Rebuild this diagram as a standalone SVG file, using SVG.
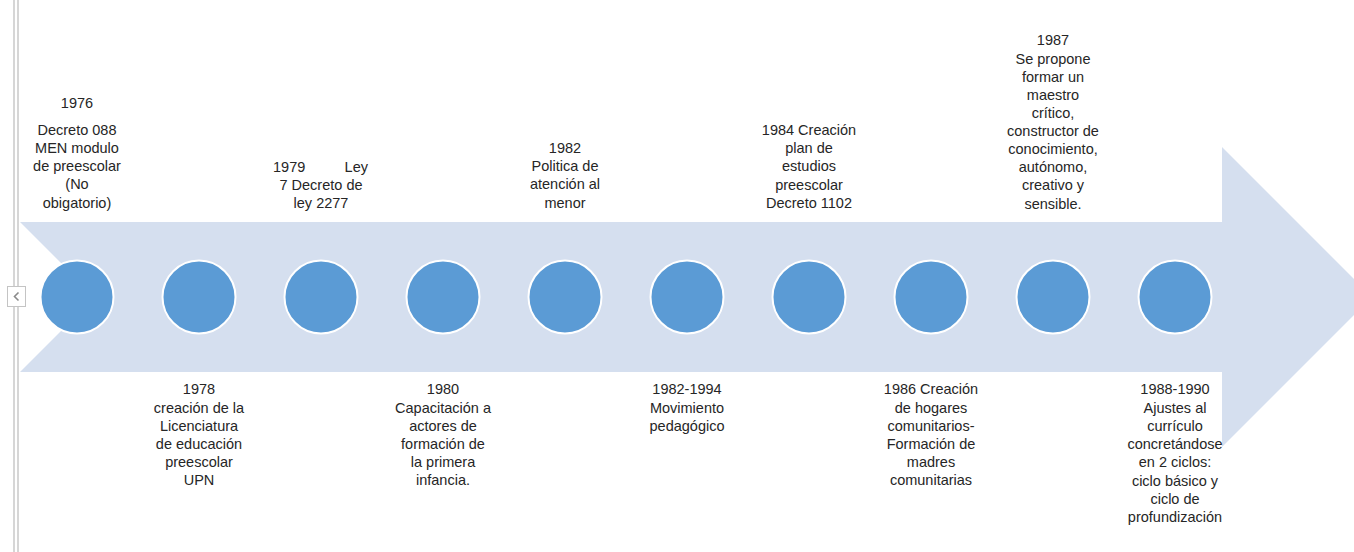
<svg xmlns="http://www.w3.org/2000/svg" width="1354" height="552" viewBox="0 0 1354 552">
  <style>
    .lbl { font-family: "Liberation Sans", Arial, sans-serif; font-size: 14.5px; fill: #262626; text-anchor: middle; }
    .dot { fill: #5B9BD5; stroke: #ffffff; stroke-width: 2; }
    .rail { stroke: #c9c9c9; stroke-width: 1.5; fill: none; }
  </style>
  <rect width="1354" height="552" fill="#ffffff"/>

  <!-- side rail with collapse handle -->
  <g id="rail">
    <line class="rail" x1="14" y1="0" x2="14" y2="552"/>
    <line class="rail" x1="18" y1="0" x2="18" y2="552"/>
    <rect x="7.5" y="286.5" width="18" height="20" fill="#ffffff" stroke="#c4c4c4" stroke-width="1"/>
    <path d="M18.5 292.5 L14.5 296.5 L18.5 300.5" fill="none" stroke="#8a8a8a" stroke-width="1.6"/>
  </g>

  <!-- timeline band -->
  <g id="band">
    <polygon points="20,222 1222,222 1222,147 1372,297 1222,447 1222,372 20,372 95,297" fill="#D5DFEF"/>
  </g>

  <!-- milestones -->
  <g id="m1976">
    <circle class="dot" cx="77" cy="297" r="36.5"/>
    <text class="lbl" x="77"><tspan x="77" y="108">1976</tspan><tspan x="77" y="135">Decreto 088</tspan><tspan x="77" y="153">MEN modulo</tspan><tspan x="77" y="171">de preescolar</tspan><tspan x="77" y="189">(No</tspan><tspan x="77" y="208">obigatorio)</tspan></text>
  </g>
  <g id="m1978">
    <circle class="dot" cx="199" cy="297" r="36.5"/>
    <text class="lbl"><tspan x="199" y="394">1978</tspan><tspan x="199" y="413">creación de la</tspan><tspan x="199" y="431">Licenciatura</tspan><tspan x="199" y="449">de educación</tspan><tspan x="199" y="467">preescolar</tspan><tspan x="199" y="485">UPN</tspan></text>
  </g>
  <g id="m1979">
    <circle class="dot" cx="321" cy="297" r="36.5"/>
    <text class="lbl"><tspan x="273" y="172" text-anchor="start">1979</tspan><tspan x="368" y="172" text-anchor="end">Ley</tspan><tspan x="321" y="190">7 Decreto de</tspan><tspan x="321" y="208">ley 2277</tspan></text>
  </g>
  <g id="m1980">
    <circle class="dot" cx="443" cy="297" r="36.5"/>
    <text class="lbl"><tspan x="443" y="394">1980</tspan><tspan x="443" y="413">Capacitación a</tspan><tspan x="443" y="431">actores de</tspan><tspan x="443" y="449">formación de</tspan><tspan x="443" y="467">la primera</tspan><tspan x="443" y="485">infancia.</tspan></text>
  </g>
  <g id="m1982">
    <circle class="dot" cx="565" cy="297" r="36.5"/>
    <text class="lbl"><tspan x="565" y="153">1982</tspan><tspan x="565" y="171">Politica de</tspan><tspan x="565" y="189">atención al</tspan><tspan x="565" y="208">menor</tspan></text>
  </g>
  <g id="m1982-1994">
    <circle class="dot" cx="687" cy="297" r="36.5"/>
    <text class="lbl"><tspan x="687" y="394">1982-1994</tspan><tspan x="687" y="413">Movimiento</tspan><tspan x="687" y="431">pedagógico</tspan></text>
  </g>
  <g id="m1984">
    <circle class="dot" cx="809" cy="297" r="36.5"/>
    <text class="lbl"><tspan x="809" y="135">1984 Creación</tspan><tspan x="809" y="153">plan de</tspan><tspan x="809" y="171">estudios</tspan><tspan x="809" y="190">preescolar</tspan><tspan x="809" y="208">Decreto 1102</tspan></text>
  </g>
  <g id="m1986">
    <circle class="dot" cx="931" cy="297" r="36.5"/>
    <text class="lbl"><tspan x="931" y="394">1986 Creación</tspan><tspan x="931" y="413">de hogares</tspan><tspan x="931" y="431">comunitarios-</tspan><tspan x="931" y="449">Formación de</tspan><tspan x="931" y="467">madres</tspan><tspan x="931" y="485">comunitarias</tspan></text>
  </g>
  <g id="m1987">
    <circle class="dot" cx="1053" cy="297" r="36.5"/>
    <text class="lbl"><tspan x="1053" y="45">1987</tspan><tspan x="1053" y="64">Se propone</tspan><tspan x="1053" y="82">formar un</tspan><tspan x="1053" y="100">maestro</tspan><tspan x="1053" y="118">crítico,</tspan><tspan x="1053" y="136">constructor de</tspan><tspan x="1053" y="154">conocimiento,</tspan><tspan x="1053" y="172">autónomo,</tspan><tspan x="1053" y="190">creativo y</tspan><tspan x="1053" y="209">sensible.</tspan></text>
  </g>
  <g id="m1988-1990">
    <circle class="dot" cx="1175" cy="297" r="36.5"/>
    <text class="lbl"><tspan x="1175" y="394">1988-1990</tspan><tspan x="1175" y="413">Ajustes al</tspan><tspan x="1175" y="431">currículo</tspan><tspan x="1175" y="449">concretándose</tspan><tspan x="1175" y="467">en 2 ciclos:</tspan><tspan x="1175" y="486">ciclo básico y</tspan><tspan x="1175" y="504">ciclo de</tspan><tspan x="1175" y="522">profundización</tspan></text>
  </g>

  <!-- no connectors: milestones sit on the band -->
  <g id="connectors"/>
</svg>
